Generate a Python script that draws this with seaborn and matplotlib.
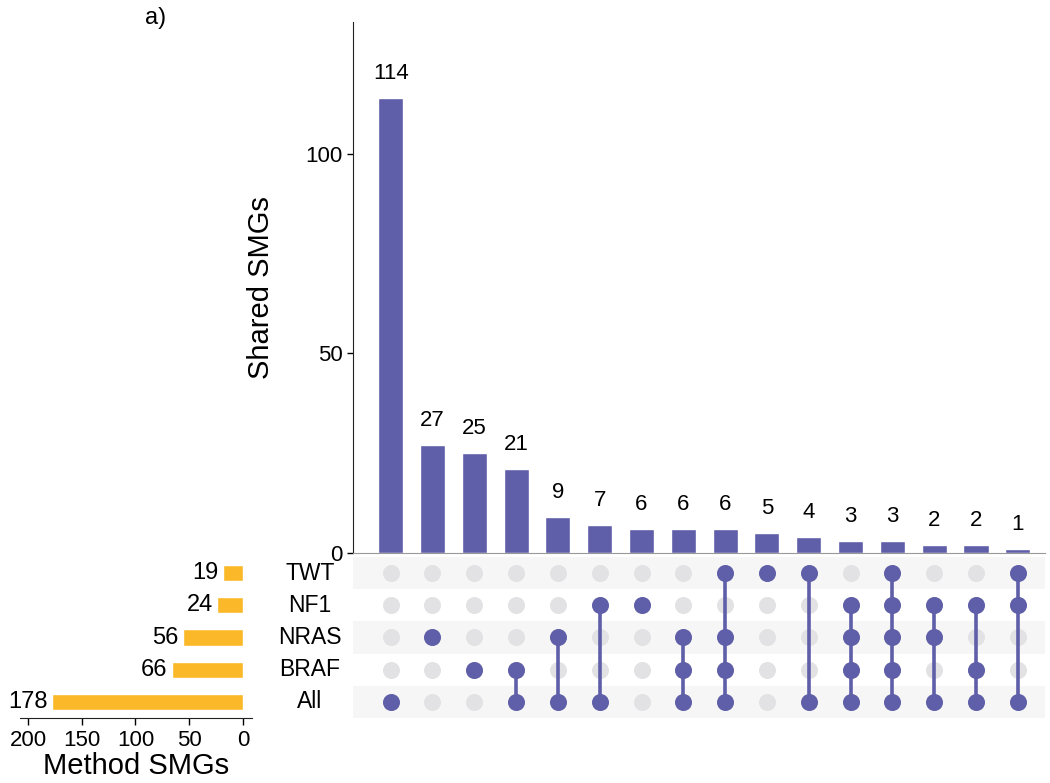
import numpy as np
import pandas as pd
import matplotlib
matplotlib.use("Agg")
import matplotlib.pyplot as plt
import seaborn as sns

# sets, top to bottom in the matrix
set_names = ["TWT", "NF1", "NRAS", "BRAF", "All"]
set_sizes = [19, 24, 56, 66, 178]

# intersections, left to right
inter_counts = [114, 27, 25, 21, 9, 7, 6, 6, 6, 5, 4, 3, 3, 2, 2, 1]
inter_members = [
    ["All"],
    ["NRAS"],
    ["BRAF"],
    ["BRAF", "All"],
    ["NRAS", "All"],
    ["NF1", "All"],
    ["NF1"],
    ["NRAS", "BRAF", "All"],
    ["TWT", "NRAS", "BRAF", "All"],
    ["TWT"],
    ["TWT", "All"],
    ["NF1", "NRAS", "BRAF", "All"],
    ["TWT", "NF1", "NRAS", "BRAF", "All"],
    ["NF1", "NRAS", "All"],
    ["NF1", "BRAF", "All"],
    ["TWT", "NF1", "All"],
]

purple = "#5f5ea8"
yellow = "#fbb829"
grey_dot = "#e2e2e4"
band = "#f6f6f6"

sns.set_style("white")
plt.rcParams["font.family"] = ["Liberation Sans", "DejaVu Sans"]
plt.rcParams["text.color"] = "black"
plt.rcParams["axes.labelcolor"] = "black"
plt.rcParams["xtick.color"] = "black"
plt.rcParams["ytick.color"] = "black"

W, H = 1050, 783
fig = plt.figure(figsize=(W / 100, H / 100), dpi=100)


def box(x0, y0, x1, y1):
    return [x0 / W, 1 - y1 / H, (x1 - x0) / W, (y1 - y0) / H]


n = len(inter_counts)
xpos = np.arange(n)
row_of = {s: i for i, s in enumerate(set_names)}

# intersection bars
ax_bar = fig.add_axes(box(353, 22, 1045, 553))
df_bar = pd.DataFrame({"pos": xpos, "count": inter_counts})
sns.barplot(data=df_bar, x="pos", y="count", color=purple, width=0.6,
            saturation=1, ax=ax_bar)
for x, c in zip(xpos, inter_counts):
    ax_bar.text(x, c + 3.5, str(c), ha="center", va="bottom", fontsize=16)
ax_bar.set_xlim(-0.9, n - 0.35)
ax_bar.set_ylim(0, 133)
ax_bar.set_yticks([0, 50, 100])
ax_bar.tick_params(axis="y", labelsize=16, length=4, width=1, left=True)
ax_bar.set_xticks([])
ax_bar.set_xlabel("")
ax_bar.set_ylabel("Shared SMGs", fontsize=21, labelpad=22)
sns.despine(ax=ax_bar)
ax_bar.spines["bottom"].set_color("#999999")
ax_bar.spines["left"].set_color("#222222")

# matrix
ax_mat = fig.add_axes(box(353, 557, 1045, 718))
ax_mat.set_xlim(ax_bar.get_xlim())
ax_mat.set_ylim(len(set_names) - 0.5, -0.5)
for i in range(len(set_names)):
    if i % 2 == 0:
        ax_mat.axhspan(i - 0.5, i + 0.5, color=band, zorder=0, lw=0)
grid = pd.DataFrame([(x, r) for x in xpos for r in range(len(set_names))],
                    columns=["x", "row"])
sns.scatterplot(data=grid, x="x", y="row", color=grey_dot, s=150,
                linewidth=0, ax=ax_mat, zorder=1)
active = []
for x, mem in zip(xpos, inter_members):
    rows = sorted(row_of[m] for m in mem)
    if len(rows) > 1:
        ax_mat.plot([x, x], [rows[0], rows[-1]], color=purple, lw=2.6, zorder=2)
    active += [(x, r) for r in rows]
act = pd.DataFrame(active, columns=["x", "row"])
sns.scatterplot(data=act, x="x", y="row", color=purple, s=150,
                linewidth=0, ax=ax_mat, zorder=3)
ax_mat.set_axis_off()

# set size bars
ax_set = fig.add_axes(box(20, 557, 252, 718))
df_set = pd.DataFrame({"name": set_names, "size": set_sizes})
sns.barplot(data=df_set, x="size", y="name", orient="h", color=yellow,
            width=0.5, saturation=1, ax=ax_set)
ax_set.set_xlim(207.4, -8.4)
ax_set.set_ylim(len(set_names) - 0.5, -0.5)
for i, v in enumerate(set_sizes):
    ax_set.text(v + 4, i, str(v), ha="right", va="center", fontsize=17)
ax_set.set_xticks([200, 150, 100, 50, 0])
ax_set.tick_params(axis="x", labelsize=16, length=5, width=1, bottom=True,
                   pad=4)
ax_set.set_yticks(range(len(set_names)))
ax_set.set_yticklabels([])
ax_set.tick_params(axis="y", left=False)
ax_set.set_ylabel("")
ax_set.set_xlabel("Method SMGs", fontsize=21, labelpad=0)
sns.despine(ax=ax_set, left=True)
ax_set.spines["bottom"].set_color("#222222")

# set names between bars and matrix
for i, s in enumerate(set_names):
    fig.text(310 / W, 1 - (573 + i * 32.2) / H, s, ha="center", va="center",
             fontsize=16.5)

fig.text(145 / W, 1 - 18 / H, "a)", ha="left", va="center", fontsize=17)

fig.savefig("out.png", dpi=100)
